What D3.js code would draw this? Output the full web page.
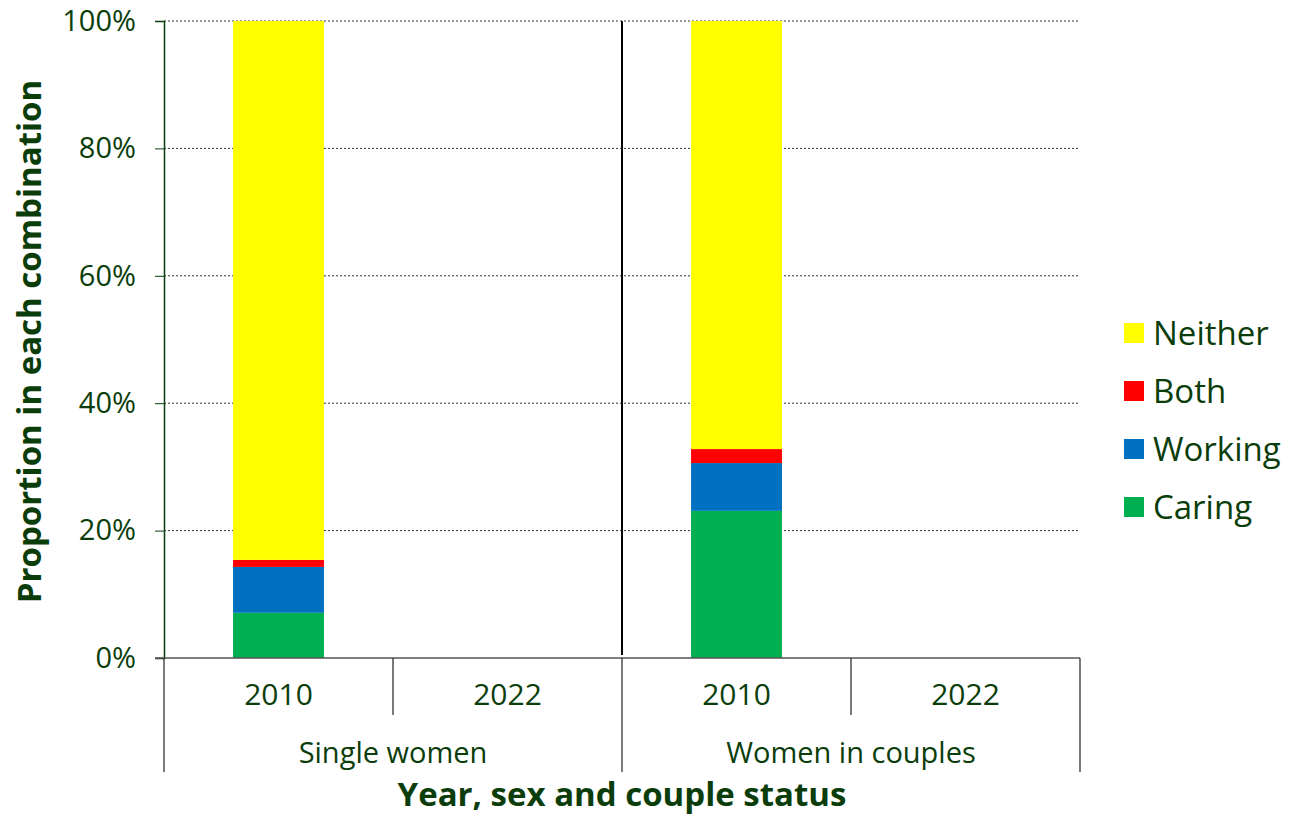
<!DOCTYPE html>
<html>
<head>
<meta charset="utf-8">
<script src="https://cdn.jsdelivr.net/npm/d3@7"></script>
<style>
  body { margin: 0; background: #fff; }
  text { font-family: "Open Sans", "Noto Sans", sans-serif; fill: #0b3d0b; }
</style>
</head>
<body>
<div id="chart"></div>
<script>
// Data
const groups = ["Single women", "Women in couples"];
const years = ["2010", "2022"];
const series = ["Caring", "Working", "Both", "Neither"];
const colors = ["#00B050", "#0070C0", "#FF0000", "#FFFF00"];
// values per bar (group|year), in percent; 2022 bars are empty
const caring  = [7.1, 0, 23.1, 0];
const working = [7.2, 0, 7.5, 0];
const both    = [1.1, 0, 2.2, 0];
const neither = [84.6, 0, 67.2, 0];
const yTicks = [0, 20, 40, 60, 80, 100];

const width = 1296, height = 816;
const margin = { top: 21, right: 216, bottom: 158, left: 164 };

const svg = d3.select("#chart").append("svg")
  .attr("width", width)
  .attr("height", height);

const keys = [];
groups.forEach(g => years.forEach(y => keys.push(g + "|" + y)));
const rows = keys.map((k, i) => ({
  key: k, Caring: caring[i], Working: working[i], Both: both[i], Neither: neither[i]
}));

const x = d3.scaleBand()
  .domain(keys)
  .range([margin.left, width - margin.right]);

const gx = d3.scaleBand()
  .domain(groups)
  .range([margin.left, width - margin.right]);

const y = d3.scaleLinear()
  .domain([0, 100])
  .range([height - margin.bottom, margin.top]);

const plotBottom = height - margin.bottom;
const plotRight = width - margin.right;

// Gridlines (dotted)
svg.append("g")
  .selectAll("line")
  .data(yTicks.filter(d => d > 0))
  .enter()
  .append("line")
  .attr("x1", margin.left)
  .attr("x2", plotRight)
  .attr("y1", d => y(d))
  .attr("y2", d => y(d))
  .attr("stroke", "#333")
  .attr("stroke-width", 1)
  .attr("stroke-dasharray", "2,2");

// Stacked bars
const stack = d3.stack().keys(series)(rows);
const barW = x.bandwidth() * 0.397;

svg.append("g")
  .selectAll("g")
  .data(stack)
  .enter()
  .append("g")
  .attr("fill", (d, i) => colors[i])
  .selectAll("rect")
  .data(d => d)
  .enter()
  .append("rect")
  .attr("x", d => x(d.data.key) + (x.bandwidth() - barW) / 2)
  .attr("width", barW)
  .attr("y", d => y(d[1]))
  .attr("height", d => y(d[0]) - y(d[1]));

// Separator between groups inside plot
svg.append("line")
  .attr("x1", gx(groups[1]))
  .attr("x2", gx(groups[1]))
  .attr("y1", margin.top)
  .attr("y2", plotBottom - 3)
  .attr("stroke", "#000")
  .attr("stroke-width", 2);

// Y axis
const yAxis = svg.append("g")
  .attr("transform", `translate(${margin.left},0)`)
  .call(d3.axisLeft(y).tickValues(yTicks).tickFormat(d => d + "%").tickSize(9).tickPadding(19));
yAxis.select(".domain").attr("stroke", "#0b3d0b").attr("stroke-width", 1.5);
yAxis.selectAll(".tick line").attr("stroke", "#0b3d0b");
yAxis.selectAll(".tick text")
  .style("font-size", "29px")
  .style("fill", "#0b3d0b");

// X axis baseline
svg.append("line")
  .attr("x1", margin.left - 9)
  .attr("x2", plotRight)
  .attr("y1", plotBottom)
  .attr("y2", plotBottom)
  .attr("stroke", "#555")
  .attr("stroke-width", 1.5);

// Category dividers: short between years, long between groups
const bounds = keys.map(k => x(k)).concat([plotRight]);
svg.append("g")
  .selectAll("line")
  .data(bounds)
  .enter()
  .append("line")
  .attr("x1", d => d)
  .attr("x2", d => d)
  .attr("y1", plotBottom)
  .attr("y2", (d, i) => i % 2 === 0 ? plotBottom + 114 : plotBottom + 57)
  .attr("stroke", "#222")
  .attr("stroke-width", 1.2);

// Year labels
svg.append("g")
  .selectAll("text")
  .data(keys)
  .enter()
  .append("text")
  .attr("x", d => x(d) + x.bandwidth() / 2)
  .attr("y", plotBottom + 47)
  .attr("text-anchor", "middle")
  .style("font-size", "30px")
  .text(d => d.split("|")[1]);

// Group labels
svg.append("g")
  .selectAll("text")
  .data(groups)
  .enter()
  .append("text")
  .attr("x", d => gx(d) + gx.bandwidth() / 2)
  .attr("y", plotBottom + 105)
  .attr("text-anchor", "middle")
  .style("font-size", "29px")
  .text(d => d);

// Axis titles
svg.append("text")
  .attr("x", (margin.left + plotRight) / 2)
  .attr("y", 806)
  .attr("text-anchor", "middle")
  .style("font-size", "33px")
  .style("font-weight", "bold")
  .text("Year, sex and couple status");

svg.append("text")
  .attr("transform", `translate(41,${(margin.top + plotBottom) / 2 + 2}) rotate(-90)`)
  .attr("text-anchor", "middle")
  .style("font-size", "33px")
  .style("font-weight", "bold")
  .text("Proportion in each combination");

// Legend (reverse order: Neither on top)
const legend = svg.append("g")
  .attr("transform", "translate(1124,333)");

const legendItems = series.slice().reverse();
legend.selectAll("rect")
  .data(legendItems)
  .enter()
  .append("rect")
  .attr("x", 0)
  .attr("y", (d, i) => i * 58 - 10)
  .attr("width", 20)
  .attr("height", 20)
  .attr("fill", d => colors[series.indexOf(d)]);

legend.selectAll("text")
  .data(legendItems)
  .enter()
  .append("text")
  .attr("x", 29)
  .attr("y", (d, i) => i * 58)
  .attr("dy", "0.35em")
  .style("font-size", "33px")
  .text(d => d);
</script>
</body>
</html>
